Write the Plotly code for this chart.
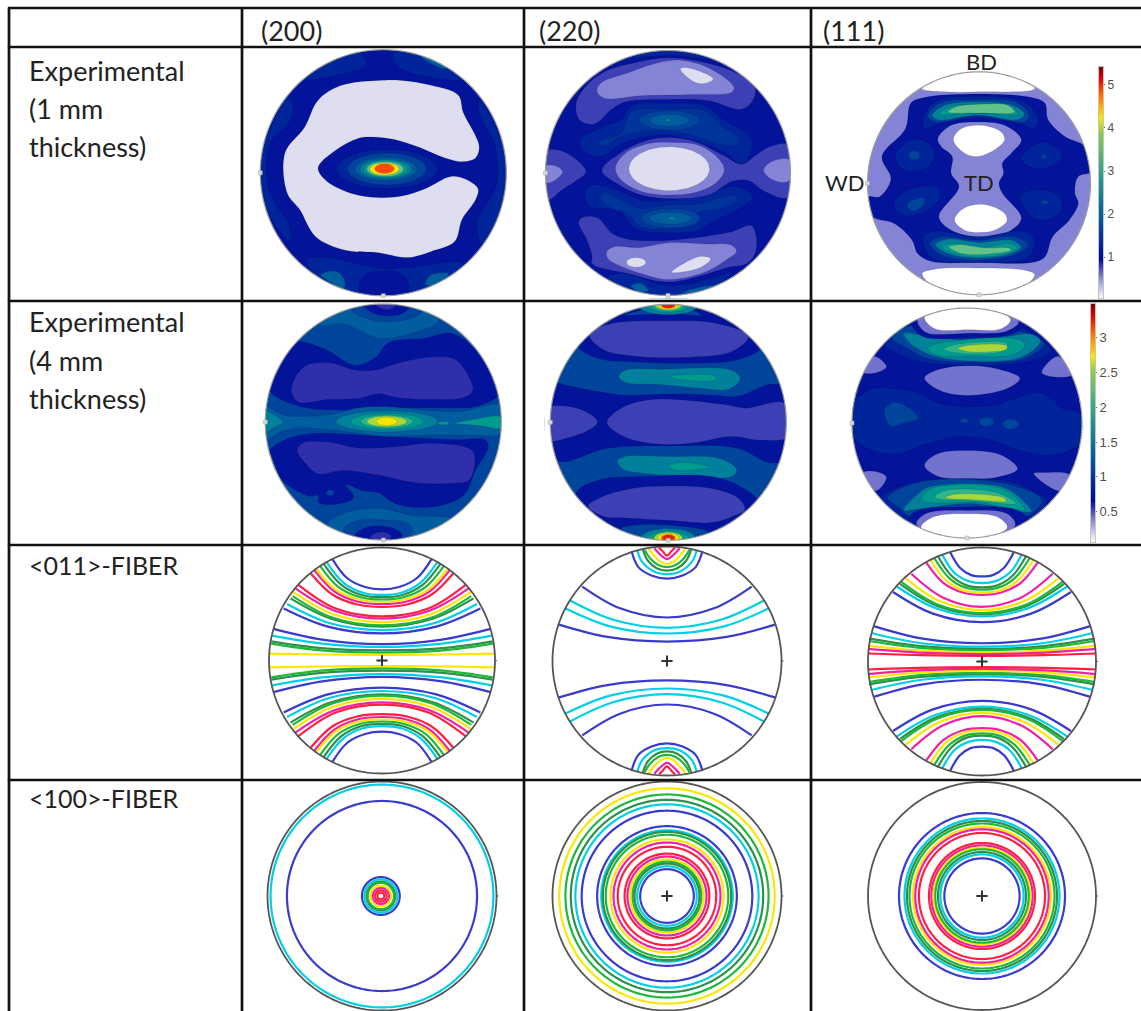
import numpy as np
import plotly.graph_objects as go

W, H = 1141, 1011

# ---------- table text ----------
COLUMN_HEADERS = ["(200)", "(220)", "(111)"]
ROW_LABELS = [["Experimental", "(1 mm", "thickness)"], ["Experimental", "(4 mm", "thickness)"],
              ["<011>-FIBER"], ["<100>-FIBER"]]
SAMPLE_DIRECTIONS = ["BD", "TD", "WD"]

# ---------- contour fill colours ----------
FILL = dict(white="#ffffff", pale="#dedef0", lav="#8484d6", lav2="#7272cf", ind="#3d40b4", ind2="#2f2fab",
            navy="#03139a", b1="#00259a", b1b="#00349b", b2="#00459c", b3="#005d9e", teal="#00809a", sea="#009b8f",
            green="#30b48a", mint="#62c28c", lime="#a8d83a", yel="#f6e600", org="#ff4a00", red="#e82000")
LINE = {1: "#3a3acc", 2: "#00cfe8", 3: "#2f8f4a", 4: "#1db83a", 5: "#ffe600", 6: "#f020a8", 7: "#ff2040"}

# ---------- pole figures: values are percent of the pole-figure radius ----------
E1_200_BASE = "navy"
E1_200_POLY = [
 ("b1", [[-19,98],[-14,87],[-31,81],[-64,76],[-45,92]]),
 ("b1", [[9,98],[9,90],[20,82],[64,76],[47,93]]),
 ("b3", [[-47,86],[-35,94],[-42,90]]),
 ("b3", [[31,94],[47,85],[53,85],[43,93]]),
 ("b1", [[-78,62],[-73,52],[-77,40],[-92,24],[-93,-14],[-76,-44],[-76,-55],[-90,-40],[-110,0],[-90,40]]),
 ("b1", [[78,59],[78,48],[90,24],[92,-9],[76,-41],[80,-57],[92,-40],[110,0],[90,40]]),
 ("b1", [[-62,-71],[-47,-69],[1,-78],[64,-74],[47,-90],[0,-103],[-47,-92]]),
 ("b3", [[-51,-83],[-39,-80],[-32,-86],[-32,-94],[-45,-88]]),
 ("b3", [[34,-91],[39,-83],[53,-82],[47,-90]]),
 ("navy", [[-19,-98],[-18,-87],[-11,-81],[12,-81],[20,-88],[20,-98],[0,-103]]),
 ("pale", [[-34,71],[-4,75],[15,75],[39,71],[61,63],[65,49],[74,32],[78,21],[75,12],[64,9],[50,12],[28,21],[9,27],
           [-9,29],[-20,28],[-39,18],[-53,4],[-47,-6],[-31,-15],[-9,-20],[15,-19],[34,-13],[55,-3],[66,-5],[77,-13],
           [75,-22],[64,-38],[58,-56],[39,-64],[20,-69],[-4,-65],[-31,-63],[-55,-52],[-68,-30],[-78,-17],[-80,16],
           [-64,37],[-53,59]]),
]
E1_200_OVAL = [("b1",3,3,41,16),("b2",3,3,32,13),("b3",2,3,25,9.5),("teal",2,3,21,8),("sea",2,3,18,7.2),
               ("mint",1.5,3,15,6.2),("yel",1,3,12,5),("org",1,3.3,8,4)]

E1_220_BASE = "navy"
E1_220_POLY = [
 ("ind", [[-75,57],[-72,43],[-60,40],[-46,52],[-35,58],[0,60],[33,59],[60,52],[69,59],[71,70],[57,81],[35,89],[0,94],[-27,90],[-49,84],[-65,73]]),
 ("lav", [[-58,67],[-54,74],[-35,81],[-8,90],[11,92],[35,85],[54,70],[52,66],[19,64],[-22,63],[-52,61]]),
 ("pale", [[10,85],[16,86],[37,77],[30,73],[22,74]]),
 ("b1", [[-72,27],[-57,36],[-38,44],[-30,55],[0,57],[30,55],[46,43],[68,29],[68,18],[60,7],[46,17],[19,27],[-3,31],[-35,25],[-57,13],[-71,21]]),
 ("b1b", [[-57,25],[-38,33],[-30,50],[0,52],[30,51],[43,39],[58,28],[57,23],[43,23],[19,31],[-8,35],[-35,31],[-54,22]]),
 ("b1", [[-68,-18],[-63,-10],[-41,-14],[-22,-22],[3,-22],[27,-18],[57,-11],[69,-20],[57,-30],[38,-39],[24,-47],[0,-49],[-27,-45],[-41,-30],[-63,-28]]),
 ("b1b", [[-56,-20],[-52,-16],[-33,-25],[-22,-29],[0,-26],[27,-25],[53,-18],[57,-22],[43,-29],[24,-33],[24,-41],[0,-45],[-22,-44],[-33,-33],[-46,-29]]),
 ("ind", [[-54,2],[-38,17],[-16,27],[3,29],[24,25],[46,14],[60,7],[71,14],[82,21],[98,23],[103,0],[98,-20],[79,-15],[65,-6],[52,-7],[33,-18],[3,-21],[-22,-18],[-41,-9]]),
 ("lav", [[-43,4],[-35,16],[-16,24],[3,25],[24,23],[41,12],[46,2],[38,-9],[22,-16],[0,-18],[-22,-15],[-38,-6]]),
 ("lav", [[78,2],[84,9],[99,11],[103,0],[98,-7],[86,-6]]),
 ("ind", [[-100,18],[-87,18],[-76,12],[-67,1],[-76,-7],[-87,-14],[-98,-22],[-106,0]]),
 ("lav", [[-103,5],[-92,6],[-86,1],[-91,-5],[-99,-8],[-106,0]]),
 ("ind", [[-73,-40],[-69,-36],[-57,-37],[-46,-49],[-33,-54],[0,-55],[35,-51],[52,-48],[68,-43],[72,-52],[71,-66],[64,-74],[49,-77],[30,-83],[0,-89],[-33,-82],[-62,-74],[-62,-68],[-66,-55]]),
 ("lav", [[-50,-64],[-43,-60],[-24,-61],[0,-57],[30,-58],[52,-59],[56,-64],[49,-70],[30,-81],[0,-87],[-22,-82],[-41,-75],[-49,-70]]),
 ("pale", [[3,-81],[16,-72],[27,-68],[35,-70],[27,-77],[11,-81]]),
 ("b1", [[-49,-85],[-35,-82],[0,-92],[35,-86],[52,-81],[24,-101],[-24,-101]]),
 ("b3", [[-30,-92],[-22,-90],[-16,-96],[-24,-97]]),
 ("b3", [[11,-98],[27,-93],[41,-92],[24,-99]]),
 ("b1", [[-35,93],[-16,98],[14,98],[35,93],[0,96]]),
]
E1_220_OVAL = [("pale",1,3.5,33,18),("b2",1,43,24.5,8),("b3",1,43,16,5),("teal",0,43,2.5,1.5),
               ("b2",2,-37,24,8),("b3",2,-37,17,5),("teal",3,-37,3,1.5),("pale",-26,-73,8,4)]

E1_111_BASE = "lav"
E1_111_POLY = [
 ("white", [[-51,85],[-31,82],[0,82],[50,85],[30,100],[0,110],[-30,100]]),
 ("white", [[-51,-81],[-40,-77],[-1,-76],[41,-78],[50,-82],[30,-100],[0,-110],[-30,-100]]),
 ("navy", [[-61,72],[-49,77],[-1,80],[47,77],[59,72],[62,57],[77,42],[95,33],[104,11],[89,6],[86,-9],[89,-18],[81,-33],[66,-48],[59,-66],[47,-71],[-1,-71],[-43,-70],[-55,-63],[-60,-51],[-76,-36],[-94,-31],[-103,-21],[-100,-12],[-89,-12],[-79,4],[-87,24],[-66,49]]),
 ("lav", [[-37,40],[-25,52],[-1,55],[23,52],[38,39],[29,27],[21,18],[22,9],[18,0],[21,-9],[38,-31],[29,-42],[2,-48],[-25,-42],[-36,-30],[-18,-3],[-25,9],[-24,24],[-34,33]]),
 ("white", [[-23,39],[-16,49],[2,52],[20,46],[23,39],[14,30],[-1,24],[-13,27]]),
 ("white", [[-22,-33],[-13,-22],[5,-19],[23,-27],[25,-34],[14,-42],[2,-44],[-13,-42]]),
 ("b1", [[-50,58],[-40,73],[-1,78],[41,73],[53,58],[50,49],[35,54],[-1,58],[-34,54],[-49,49]]),
 ("b2", [[-46,61],[-35,72],[-1,75],[35,72],[45,61],[41,55],[-1,61],[-40,55]]),
 ("teal", [[-42,61],[-31,70],[-1,73],[30,70],[41,62],[35,57],[-1,61],[-37,57]]),
 ("sea", [[-36,62],[-25,69],[-1,71],[26,70],[35,62],[-1,63]]),
 ("mint", [[-28,64],[-19,69],[2,71],[26,70],[32,64],[-1,63]]),
 ("b1", [[-50,-48],[-40,-43],[-1,-48],[41,-43],[50,-51],[44,-66],[-1,-71],[-43,-66]]),
 ("b2", [[-44,-54],[-34,-48],[-1,-51],[32,-48],[44,-55],[35,-63],[-1,-69],[-34,-64]]),
 ("teal", [[-39,-55],[-28,-50],[-1,-53],[29,-51],[38,-57],[29,-63],[-1,-67],[-28,-63]]),
 ("sea", [[-33,-57],[-25,-54],[5,-57],[29,-54],[34,-58],[26,-63],[-1,-66],[-22,-63]]),
 ("mint", [[-27,-57],[-18,-55],[5,-58],[27,-58],[29,-60],[-1,-64],[-19,-62]]),
 ("b1", [[-75,24],[-58,40],[-40,30],[-45,15],[-67,12]]),
 ("b1", [[38,22],[56,37],[75,25],[59,13],[45,15]]),
 ("b1", [[-76,-18],[-64,-6],[-37,-4],[-36,-15],[-52,-27],[-70,-28]]),
 ("b2", [[-64,-18],[-49,-13],[-49,-18],[-58,-25],[-63,-23]]),
 ("b1", [[38,-10],[56,-6],[72,-12],[74,-24],[59,-33],[44,-27]]),
]
E1_111_OVAL = [("b2",-58,25,5,4),("b2",58,24,2.5,2),("b2",59,-17,3,2)]

E4_200_BASE = "b2"
E4_200_POLY = [
 ("b3", [[-55,82],[-33,83],[-4,71],[24,75],[47,86],[30,98],[0,102],[-27,98]]),
 ("b2", [[-27,95],[-18,89],[1,85],[24,88],[34,95],[1,103]]),
 ("navy", [[-17,100],[-10,93],[3,90],[16,92],[23,99],[3,103]]),
 ("ind2", [[-6,99],[3,95],[11,99],[3,101]]),
 ("navy", [[-96,27],[-82,58],[-75,68],[-50,62],[-24,48],[-6,55],[4,67],[35,71],[58,75],[81,58],[97,26],[96,21],[78,13],[52,12],[16,12],[-32,10],[-66,12],[-90,21]]),
 ("ind2", [[-78,26],[-75,37],[-65,48],[-44,50],[-24,44],[-7,44],[13,50],[41,55],[61,53],[71,41],[76,27],[69,21],[41,19],[10,21],[-4,24],[-21,20],[-47,19],[-72,17]]),
 ("navy", [[-96,-24],[-83,-15],[-61,-10],[-4,-12],[64,-15],[86,-15],[89,-21],[78,-41],[68,-62],[41,-72],[10,-69],[-4,-60],[-18,-58],[-32,-53],[-25,-64],[-42,-70],[-55,-68],[-55,-62],[-62,-63],[-86,-49],[-93,-32]]),
 ("ind2", [[-73,-24],[-69,-18],[-47,-17],[-21,-22],[10,-21],[41,-18],[76,-25],[73,-49],[58,-52],[24,-51],[-4,-45],[-35,-41],[-55,-44],[-66,-35]]),
 ("b3", [[-47,-86],[-32,-77],[-4,-73],[24,-79],[58,-82],[18,-100],[0,-103],[-24,-99]]),
 ("b2", [[-34,-92],[-24,-84],[1,-83],[21,-86],[25,-93],[0,-103]]),
 ("navy", [[-24,-96],[-13,-89],[4,-89],[14,-93],[16,-97],[0,-103]]),
 ("ind2", [[-11,-97],[-1,-93],[7,-97],[-1,-102]]),
 ("b3", [[-100,13],[-85,6],[-47,6],[-21,12],[4,13],[35,10],[66,9],[100,14],[100,-10],[75,-11],[38,-11],[1,-12],[-33,-8],[-69,-5],[-86,-8],[-100,-15]]),
 ("teal", [[-100,9],[-92,6],[-85,0],[-93,-5],[-100,-8],[-104,0]]),
 ("sea", [[61,-1],[75,2],[100,4],[100,-5],[81,-3]]),
]
E4_200_OVAL = [("b2",-45,-60,3.5,2.5),("sea",51,-1,5,1.5),("teal",3,0.5,43,9),("sea",3,0.5,31,7),("green",3,0.5,22,5.5),
               ("lime",3,0.5,17,4.5),("yel",3,0.5,9,3.5)]

E4_220_BASE = "b2"
E4_220_POLY = [
 ("navy", [[-76,64],[-65,75],[-51,85],[-30,96],[0,104],[30,96],[51,85],[68,75],[78,63],[59,53],[20,50],[-25,51],[-59,54]]),
 ("ind", [[-67,74],[-51,83],[0,86],[40,84],[68,73],[54,60],[14,55],[-28,56],[-54,61]]),
 ("b2", [[-37,91],[-14,97],[0,101],[14,97],[28,91],[0,92]]),
 ("navy", [[-97,33],[-85,31],[-65,27],[-37,23],[-3,24],[37,23],[59,22],[85,32],[98,30],[98,-32],[85,-34],[59,-22],[0,-20],[-51,-22],[-93,-33],[-100,-18]]),
 ("ind", [[-52,0],[-40,12],[-17,19],[11,19],[48,15],[65,12],[99,16],[102,-12],[76,-15],[54,-12],[17,-18],[-14,-18],[-40,-11]]),
 ("ind", [[-102,12],[-82,13],[-68,8],[-60,0],[-68,-7],[-85,-13],[-102,-15]]),
 ("teal", [[-42,39],[-37,44],[-8,45],[54,44],[61,37],[51,28],[25,29],[-8,32],[-37,34]]),
 ("sea", [[1,39],[7,40],[40,39],[40,36],[23,35],[11,36]]),
 ("teal", [[-43,-33],[-37,-29],[-3,-29],[45,-31],[58,-40],[54,-46],[20,-46],[-23,-43],[-38,-40]]),
 ("sea", [[0,-37],[11,-34],[23,-35],[35,-38],[25,-40],[14,-41],[4,-40]]),
 ("navy", [[-78,-60],[-59,-49],[-25,-46],[37,-46],[62,-55],[75,-66],[62,-80],[30,-100],[-30,-100],[-65,-80]]),
 ("ind", [[-68,-71],[-56,-63],[-31,-56],[-3,-54],[37,-56],[59,-64],[65,-74],[54,-80],[37,-85],[0,-83],[-37,-81],[-54,-80]]),
 ("b2", [[-40,-90],[-28,-87],[0,-87],[34,-93],[14,-103],[-14,-103]]),
]
E4_220_OVAL = [("teal",0,99,25,8),("sea",0,99,17,6),("green",0,99,13,5),("lime",0,99,11,4),("yel",0,99,8,3.2),("org",0,99,6,2.5),("red",0,99,5,2),
               ("teal",0,-98,23,8),("sea",0,-98,17,6),("lime",0,-98,12,5),("yel",0,-98,9,4),("org",0,-98,6,3),("red",0,-98,4.5,2.5)]

E4_111_BASE = "navy"
E4_111_POLY = [
 ("b1", [[-99,17],[-81,30],[-66,30],[-46,27],[-20,16],[21,15],[50,24],[65,26],[82,13],[99,7],[99,-17],[73,-28],[50,-25],[21,-15],[-8,-12],[-37,-19],[-60,-27],[-87,-22],[-100,-9]]),
 ("b2", [[-72,11],[-63,18],[-52,14],[-42,4],[-55,0],[-66,-3]]),
 ("lav2", [[-37,39],[-26,46],[1,50],[27,47],[46,39],[35,30],[1,24],[-23,28]]),
 ("lav2", [[-37,-37],[-26,-27],[1,-24],[30,-28],[44,-40],[27,-47],[1,-49],[-26,-46]]),
 ("lav2", [[-90,44],[-81,58],[-70,49],[-78,44]]),
 ("lav2", [[65,44],[79,58],[91,42],[76,40]]),
 ("lav2", [[-90,-43],[-81,-42],[-70,-47],[-79,-59]]),
 ("lav2", [[58,-44],[67,-43],[89,-45],[81,-59]]),
 ("b1", [[-72,69],[-55,81],[-44,87],[38,87],[56,78],[73,63],[50,53],[3,50],[-40,53],[-60,60]]),
 ("b2", [[-65,74],[-52,84],[50,79],[67,69],[50,56],[1,53],[-34,56],[-54,66]]),
 ("teal", [[-55,78],[-37,76],[1,72],[32,75],[57,77],[64,71],[47,57],[1,54],[-28,58],[-49,69]]),
 ("sea", [[-34,65],[-26,69],[47,72],[50,66],[38,59],[1,58],[-26,59]]),
 ("green", [[-20,64],[-11,68],[35,69],[32,63],[1,60]]),
 ("lime", [[-8,65],[6,68],[35,67],[34,64],[21,62],[1,62]]),
 ("navy", [[-49,91],[-40,76],[1,74],[41,78],[50,87],[1,101]]),
 ("lav2", [[-43,90],[-36,79],[1,78],[35,80],[45,88],[1,101]]),
 ("white", [[-37,92],[-28,82],[1,81],[30,82],[38,90],[15,101],[-15,101]]),
 ("b1", [[-75,-65],[-60,-56],[-37,-50],[38,-51],[62,-62],[70,-67],[50,-88],[-49,-88]]),
 ("b2", [[-69,-65],[-40,-51],[35,-53],[65,-67],[50,-82],[-49,-82],[-59,-73]]),
 ("teal", [[-55,-76],[-43,-62],[-34,-56],[32,-56],[53,-72],[56,-77],[3,-70],[-43,-75]]),
 ("sea", [[-39,-66],[-31,-57],[30,-57],[50,-75],[9,-69],[-34,-69]]),
 ("green", [[-28,-65],[-20,-59],[24,-60],[43,-70],[9,-68]]),
 ("lime", [[-19,-65],[-11,-62],[32,-65],[34,-68],[9,-67]]),
 ("navy", [[-50,-83],[-43,-76],[1,-73],[44,-76],[53,-85],[0,-103]]),
 ("lav2", [[-44,-88],[-36,-79],[1,-76],[35,-79],[42,-89],[0,-103]]),
 ("white", [[-40,-91],[-30,-82],[1,-79],[27,-82],[35,-91],[0,-103]]),
]
E4_111_OVAL = [("b2",-2,2,3.5,2),("b2",17,1,6.5,4),("b2",38,-1,7,4.5)]

# ---------- <011> fibre: level, half-curve points from rim to centre; mirrored in x and y ----------
F011_200 = [
 (1,[[-96,28],[-53,18.5],[0,14.5]]),(2,[[-97,22],[-53,15],[0,12]]),(3,[[-98,17],[-54,11],[0,9]]),
 (4,[[-98,15],[-54,9],[0,7]]),(5,[[-100,6],[-55,5.3],[0,5]]),
 (1,[[-87,46],[-48,30],[0,24]]),(2,[[-84,50],[-46,33],[0,27]]),(3,[[-81,55],[-45,37],[0,30]]),
 (4,[[-79,57],[-44,38],[0,31]]),(5,[[-79,61],[-43,41],[0,34]]),(6,[[-77,64],[-42,44],[0,37]]),(7,[[-74,67],[-41,46],[0,39]]),
 (7,[[-63,77],[-44,58.4],[-22,49.6],[0,47.5]]),(6,[[-60,80],[-42,61],[-21,52],[0,50]]),(5,[[-58,81],[-41,62.7],[-20,54],[0,52]]),
 (4,[[-55,84],[-38.5,65],[-19,56],[0,54]]),(3,[[-52,86],[-36,67],[-18,58],[0,56]]),(2,[[-49,87],[-34,68.7],[-17,60],[0,58]]),
 (1,[[-44,90],[-31,73],[-15,65],[0,63]]),
]
F011_220 = [
 (1,[[-95,32],[-52,21],[0,17]]),(2,[[-89,46],[-49,30],[0,24]]),(2,[[-85,53],[-47,36],[0,29]]),(1,[[-74,65],[-41,46],[0,38]]),
 (1,[[-31,96],[-25,82],[-13,74.5],[0,72]]),(2,[[-26,97],[-22,87],[-11,78],[0,76]]),(3,[[-21,97],[-17,88],[-9,81],[0,79]]),
 (4,[[-19.5,97],[-15,90],[-8,84],[0,82]]),(5,[[-16,98],[-12,93],[-6,87],[0,84.5]]),(6,[[-11,98.5],[-7,94],[0,89]]),(7,[[-7,99],[-4,96],[0,92]]),
]
F011_111 = [
 (1,[[-95,31],[-52,20],[0,16]]),(2,[[-97,25],[-53,16],[0,13]]),(3,[[-99,20],[-54,13.5],[0,11]]),(4,[[-99,18],[-54,12],[0,10]]),
 (5,[[-100,14],[-55,9.7],[0,8]]),(6,[[-100,11],[-55,7.8],[0,6.5]]),(7,[[-100,7],[-55,5.6],[0,5]]),
 (1,[[-78,61],[-43,42],[0,34.5]]),(2,[[-75,66],[-41,47],[0,39.5]]),(3,[[-72,68],[-40,49],[0,41.5]]),(4,[[-71,70],[-39,50],[0,42.5]]),
 (5,[[-67,73],[-37,53],[0,45]]),(6,[[-62,77],[-34,56],[0,48]]),
 (6,[[-49,87],[-34,69],[-17,60.5],[0,58.5]]),(5,[[-45,89],[-31.5,71],[-16,62.5],[0,60.5]]),(4,[[-42,91],[-29,73.4],[-15,65],[0,63]]),
 (3,[[-39,93],[-27,75.4],[-14,67],[0,65]]),(2,[[-35,94],[-24.5,78],[-12,70.5],[0,68.7]]),(1,[[-28,96],[-19.6,82.5],[-10,76],[0,74.6]]),
]

# ---------- <100> fibre: level and ring radius (percent) ----------
F100_200_LEVEL = [2, 1, 1, 2, 3, 4, 5, 6, 7, 7]
F100_200_RADIUS = [97.3, 83, 16.5, 14.5, 12.5, 11.5, 9, 7, 5, 3]
F100_220_LEVEL = [5, 4, 3, 2, 1, 1, 2, 3, 4, 5, 6, 7, 7, 6, 5, 4, 3, 2, 1]
F100_220_RADIUS = [94, 88.7, 84, 80, 74.5, 61, 57.4, 56, 53.5, 49.5, 46.7, 43, 37, 34.5, 32, 30, 28.3, 26, 23.4]
F100_111_LEVEL = [1, 2, 3, 4, 5, 6, 7, 7, 6, 5, 4, 3, 2, 1]
F100_111_RADIUS = [72.8, 68, 65.8, 63.6, 60.5, 58.5, 55.3, 46.5, 44.4, 42.4, 41, 38.6, 36.5, 33]

# ---------- colour bars ----------
CBAR_TOP_TICKS = [1, 2, 3, 4, 5]
CBAR_TOP_RANGE = [0.055, 5.42]
CBAR_BOTTOM_TICKS = [0.5, 1, 1.5, 2, 2.5, 3]
CBAR_BOTTOM_TICK_TEXT = ["0.5", "1", "1.5", "2", "2.5", "3"]
CBAR_BOTTOM_RANGE = [0.07, 3.48]
CBAR_SCALE = [[0, "#ffffff"], [0.09, "#8484d6"], [0.17, "#000c94"], [0.36, "#0060a0"], [0.55, "#2fa58a"], [0.72, "#8fcf4a"],
              [0.78, "#ffe600"], [0.88, "#ff6a00"], [0.95, "#e00000"], [1, "#7a0000"]]

# ---------- page layout (pixels) ----------
H_RULES = [8, 47, 301, 545, 780]
V_RULES = [9, 242, 524, 811]
HEADER_X = [259, 537, 821]
HEADER_Y = 30
ROW_LABEL_Y = [70, 322, 565, 798]
LABEL_STEP = 38
LABEL_X = 27
GEOM = [(383.3,172.7,123),(668,173,122.5),(979,183.3,111.5),
        (383.3,422,118),(668.3,422.3,118),(967,423,115),
        (382,660.5,113),(667,661,114.5),(982,661.5,114),
        (382,896,114.5),(667,896,114.5),(982,896,114)]
PAD_EXPERIMENT = 1.05
PAD_FIBRE = 1.03
OVERSHOOT_LIMIT = 102.5
CONTOUR_WIDTH = 2.2

fig = go.Figure()
theta = np.linspace(0, 2 * np.pi, 241)
layout = {}

def axes(i, cx, cy, r, pad):
    left, right = max(0, cx - pad * r), min(W, cx + pad * r)
    top, bottom = max(0, cy - pad * r), min(H, cy + pad * r)
    k = "" if i == 1 else str(i)
    layout["xaxis" + k] = dict(domain=[left / W, right / W], range=[(left - cx) / r * 100, (right - cx) / r * 100],
                               visible=False, fixedrange=True, anchor="y" + k)
    layout["yaxis" + k] = dict(domain=[1 - bottom / H, 1 - top / H], range=[(cy - bottom) / r * 100, (cy - top) / r * 100],
                               visible=False, fixedrange=True, anchor="x" + k)
    return "x" + k, "y" + k

def add_poly(pts, color, xa, ya):
    # outline points that lie past the rim stay inside the subplot; the white ring hides them
    p = np.clip(np.array(pts + [pts[0]], float), -OVERSHOOT_LIMIT, OVERSHOOT_LIMIT)
    fig.add_trace(go.Scatter(x=p[:, 0], y=p[:, 1], mode="lines", fill="toself", fillcolor=color,
                             line=dict(color="rgba(0,0,30,0.25)", width=0.5, shape="spline", smoothing=1),
                             hoverinfo="skip", showlegend=False, xaxis=xa, yaxis=ya))

def add_oval(c, cx, cy, a, b, xa, ya):
    fig.add_trace(go.Scatter(x=cx + a * np.cos(theta), y=cy + b * np.sin(theta), mode="lines", fill="toself", fillcolor=FILL[c],
                             line=dict(color="rgba(0,0,30,0.25)", width=0.5), hoverinfo="skip", showlegend=False, xaxis=xa, yaxis=ya))

def disk_base(color, xa, ya):
    fig.add_trace(go.Scatter(x=100 * np.cos(theta), y=100 * np.sin(theta), mode="lines", fill="toself", fillcolor=color,
                             line=dict(width=0), hoverinfo="skip", showlegend=False, xaxis=xa, yaxis=ya))

def rim(xa, ya, r, color, width):
    # a white ring just outside the rim hides whatever runs past the disk
    halo = 100 + 7 / r * 100
    fig.add_trace(go.Scatter(x=halo * np.cos(theta), y=halo * np.sin(theta), mode="lines",
                             line=dict(color="#ffffff", width=14, simplify=False),
                             hoverinfo="skip", showlegend=False, xaxis=xa, yaxis=ya))
    fig.add_trace(go.Scatter(x=100 * np.cos(theta), y=100 * np.sin(theta), mode="lines", line=dict(color=color, width=width, simplify=False),
                             hoverinfo="skip", showlegend=False, xaxis=xa, yaxis=ya))

def experimental(i, base, polys, ovals):
    xa, ya = axes(i, *GEOM[i - 1], PAD_EXPERIMENT)
    disk_base(FILL[base], xa, ya)
    for c, pts in polys:
        add_poly(pts, FILL[c], xa, ya)
    for c, cx, cy, a, b in ovals:
        add_oval(c, cx, cy, a, b, xa, ya)
    rim(xa, ya, GEOM[i - 1][2], "#9a9a9a", 1.2)
    fig.add_trace(go.Scatter(x=[-100, 0], y=[0, -100], mode="markers", marker=dict(symbol="square", size=4, color="#d8d8d8", line=dict(color="#aaaaaa", width=0.5)),
                             hoverinfo="skip", showlegend=False, xaxis=xa, yaxis=ya))

def marks(xa, ya, centre=True):
    fig.add_trace(go.Scatter(x=[0] if centre else [], y=[0] if centre else [], mode="markers",
                             marker=dict(symbol="cross-thin", size=8, line=dict(color="#333333", width=2)),
                             hoverinfo="skip", showlegend=False, xaxis=xa, yaxis=ya))
    fig.add_trace(go.Scatter(x=[100, 101.8], y=[0, 0], mode="lines", line=dict(color="#555555", width=1),
                             hoverinfo="skip", showlegend=False, xaxis=xa, yaxis=ya))

def fibre_arcs(i, curves):
    xa, ya = axes(i, *GEOM[i - 1], PAD_FIBRE)
    for lv, half in curves:
        h = np.array(half, float)
        xs = np.concatenate([h[:, 0], -h[-2::-1, 0]])
        ys = np.concatenate([h[:, 1], h[-2::-1, 1]])
        for sign in (1, -1):
            fig.add_trace(go.Scatter(x=xs, y=sign * ys, mode="lines", line=dict(color=LINE[lv], width=CONTOUR_WIDTH, shape="spline", smoothing=1),
                                     hoverinfo="skip", showlegend=False, xaxis=xa, yaxis=ya))
    fig.add_trace(go.Scatter(x=100 * np.cos(theta), y=100 * np.sin(theta), mode="lines", line=dict(color="#555555", width=1.8, simplify=False),
                             hoverinfo="skip", showlegend=False, xaxis=xa, yaxis=ya))
    marks(xa, ya)

def fibre_rings(i, levels, radii, cx=0, centre=True):
    xa, ya = axes(i, *GEOM[i - 1], PAD_FIBRE)
    for lv, rad in zip(levels, radii):
        off = cx if rad < 20 else 0
        fig.add_trace(go.Scatter(x=off + rad * np.cos(theta), y=rad * np.sin(theta), mode="lines", line=dict(color=LINE[lv], width=CONTOUR_WIDTH, simplify=False),
                                 hoverinfo="skip", showlegend=False, xaxis=xa, yaxis=ya))
    fig.add_trace(go.Scatter(x=100 * np.cos(theta), y=100 * np.sin(theta), mode="lines", line=dict(color="#555555", width=1.8, simplify=False),
                             hoverinfo="skip", showlegend=False, xaxis=xa, yaxis=ya))
    marks(xa, ya, centre)

experimental(1, E1_200_BASE, E1_200_POLY, E1_200_OVAL)
experimental(2, E1_220_BASE, E1_220_POLY, E1_220_OVAL)
experimental(3, E1_111_BASE, E1_111_POLY, E1_111_OVAL)
experimental(4, E4_200_BASE, E4_200_POLY, E4_200_OVAL)
experimental(5, E4_220_BASE, E4_220_POLY, E4_220_OVAL)
experimental(6, E4_111_BASE, E4_111_POLY, E4_111_OVAL)
fibre_arcs(7, F011_200)
fibre_arcs(8, F011_220)
fibre_arcs(9, F011_111)
fibre_rings(10, F100_200_LEVEL, F100_200_RADIUS, cx=-1, centre=False)
fibre_rings(11, F100_220_LEVEL, F100_220_RADIUS)
fibre_rings(12, F100_111_LEVEL, F100_111_RADIUS)

def colour_bar(i, box, rng, ticks, text, size):
    l, r_, t, b = box
    k = str(i)
    v = np.linspace(rng[0], rng[1], 160)
    fig.add_trace(go.Heatmap(x=[0, 1], y=v, z=[[a, a] for a in v], zmin=rng[0], zmax=rng[1], colorscale=CBAR_SCALE, showscale=False,
                             hoverinfo="skip", xaxis="x" + k, yaxis="y" + k))
    layout["xaxis" + k] = dict(domain=[l / W, r_ / W], range=[0, 1], showticklabels=False, ticks="", showgrid=False, zeroline=False,
                               showline=True, linecolor="#c4c4c4", linewidth=1, mirror=True, fixedrange=True, anchor="y" + k)
    layout["yaxis" + k] = dict(domain=[1 - b / H, 1 - t / H], range=rng, side="right", tickvals=ticks, ticktext=text, ticks="outside", ticklen=1,
                               tickcolor="#666666", tickfont=dict(family="Liberation Sans", size=size, color="#505050"), showgrid=False, zeroline=False,
                               showline=True, linecolor="#c4c4c4", linewidth=1, mirror=True, fixedrange=True, anchor="x" + k)

colour_bar(13, (1098.5, 1103, 66.7, 298), CBAR_TOP_RANGE, CBAR_TOP_TICKS, [str(t) for t in CBAR_TOP_TICKS], 12)
colour_bar(14, (1090.5, 1095, 304, 541.7), CBAR_BOTTOM_RANGE, CBAR_BOTTOM_TICKS, CBAR_BOTTOM_TICK_TEXT, 13)

# ---------- table rules ----------
shapes = []
for y in H_RULES:
    shapes.append(dict(type="line", xref="paper", yref="paper", x0=V_RULES[0] / W - 0.001, x1=1, y0=1 - y / H, y1=1 - y / H,
                       line=dict(color="#111111", width=2.7)))
for x in V_RULES:
    shapes.append(dict(type="line", xref="paper", yref="paper", x0=x / W, x1=x / W, y0=0, y1=1 - H_RULES[0] / H,
                       line=dict(color="#111111", width=2.7)))

# ---------- text ----------
ann = []
def label(txt, x, y, size, anchor="left"):
    ann.append(dict(text=txt.replace("<", "&lt;"), x=x / W, y=1 - y / H, xref="paper", yref="paper", xanchor=anchor, yanchor="middle",
                    showarrow=False, font=dict(family="Lato", size=size, color="#222222")))
for txt, x in zip(COLUMN_HEADERS, HEADER_X):
    label(txt, x, HEADER_Y, 27)
for lines, y0 in zip(ROW_LABELS, ROW_LABEL_Y):
    for j, txt in enumerate(lines):
        label(txt, LABEL_X, y0 + j * LABEL_STEP, 25 if "FIBER" in txt else 27)
for txt, x, y in zip(SAMPLE_DIRECTIONS, [981, 979, 845], [61, 182, 182]):
    label(txt, x, y, 22, anchor="center")

fig.update_layout(width=W, height=H, margin=dict(l=0, r=0, t=0, b=0), paper_bgcolor="#ffffff", plot_bgcolor="rgba(0,0,0,0)",
                  showlegend=False, shapes=shapes, annotations=ann, **layout)
fig.write_html("out.html", config=dict(displayModeBar=False),
               post_script="document.body.style.margin='0';document.documentElement.style.overflow='hidden';")
